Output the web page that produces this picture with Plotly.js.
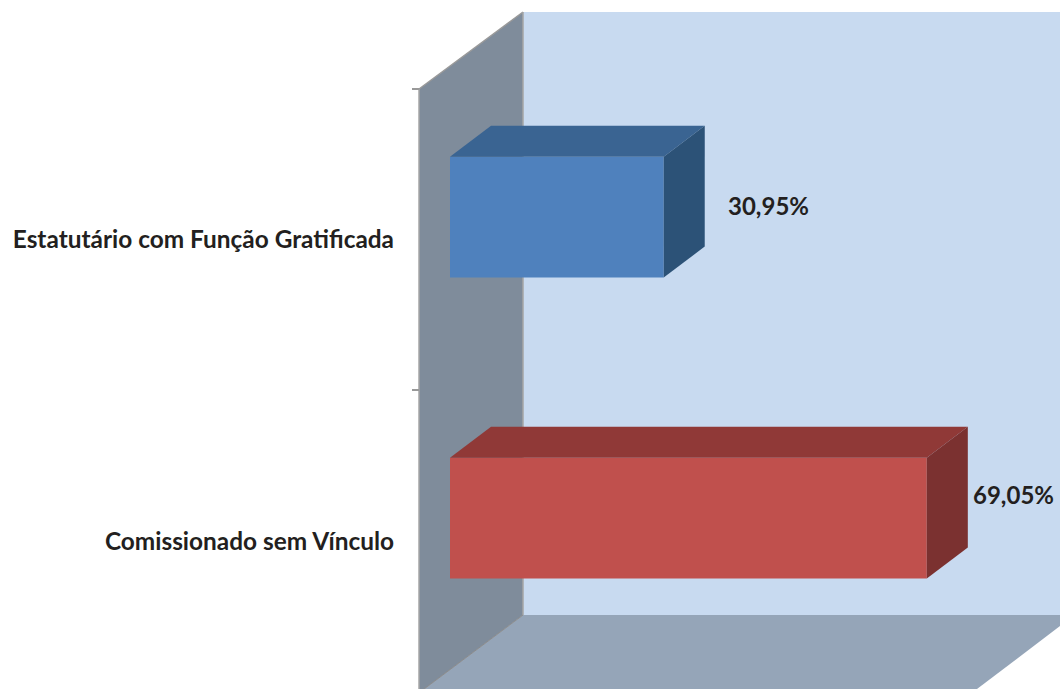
<!DOCTYPE html>
<html>
<head>
<meta charset="utf-8">
<script src="https://cdn.plot.ly/plotly-3.0.1.min.js"></script>
<style>html,body{margin:0;padding:0;background:#fff;overflow:hidden}#chart{width:1060px;height:689px}</style>
</head>
<body>
<div id="chart"></div>
<script>
const categories = ['Comissionado sem Vínculo', 'Estatutário com Função Gratificada'];
const values = [69.05, 30.95];
const frontColors = ['#c0504d', '#4f81bd'];
const topColors = ['#903937', '#3a6492'];
const sideColors = ['#7b3130', '#2c5277'];

const W = 1060, H = 689;
const FONT = 'Lato, "Open Sans", sans-serif';
const INK = '#231f20';
const xRange = [-65.17, 88.34];
const yRange = [-0.4917, 1.797];
const barOffset = -0.125, barWidth = 0.4017;
const depthX = 5.94, depthY = 0.103;
const labelShift = [44, 62];
const labelY = [0.1528, 1.1129];

const px = x => x / W;
const py = y => 1 - y / H;
function poly(points, fill, line) {
  const path = points.map((p, i) => (i ? 'L' : 'M') + px(p[0]) + ',' + py(p[1])).join(' ') + ' Z';
  return {type: 'path', xref: 'paper', yref: 'paper', path, fillcolor: fill, layer: 'below',
          line: line ? {color: line, width: 1.5} : {width: 0}};
}
function seg(a, b, color, width) {
  return {type: 'line', xref: 'paper', yref: 'paper', layer: 'below',
          x0: px(a[0]), y0: py(a[1]), x1: px(b[0]), y1: py(b[1]), line: {color, width}};
}
const shapes = [
  poly([[523, 12], [1060, 12], [1060, 615], [523, 615]], '#c8daf0'),
  poly([[523, 615], [1060, 615], [1060, 626], [977, 689], [424, 689]], '#95a5b8'),
  poly([[419, 89], [523, 12], [523, 615], [419, 693]], '#7f8c9b'),
  seg([419, 89], [523, 12], '#999999', 1.5),
  seg([419, 89], [419, 689], '#a6a6a6', 1.5),
  seg([523, 12], [523, 615], '#a6a6a6', 1.5),
  seg([523, 615], [424, 689], '#8c8c8c', 1),
];

const traces = [{
  type: 'bar', orientation: 'h', y: categories, x: values,
  width: barWidth, offset: barOffset,
  marker: {color: frontColors, line: {width: 0}},
  hoverinfo: 'skip', showlegend: false, cliponaxis: false
}];

values.forEach((v, i) => {
  const lo = i + barOffset, hi = lo + barWidth;
  traces.push({
    type: 'scatter', mode: 'lines', yaxis: 'y2', fill: 'toself', fillcolor: topColors[i],
    x: [0, v, v + depthX, depthX, 0], y: [hi, hi, hi + depthY, hi + depthY, hi],
    line: {width: 0}, hoverinfo: 'skip', showlegend: false
  });
  traces.push({
    type: 'scatter', mode: 'lines', yaxis: 'y2', fill: 'toself', fillcolor: sideColors[i],
    x: [v, v + depthX, v + depthX, v, v], y: [lo, lo + depthY, hi + depthY, hi, lo],
    line: {width: 0}, hoverinfo: 'skip', showlegend: false
  });
});

const annotations = values.map((v, i) => ({
  xref: 'x', yref: 'y2', x: v, y: labelY[i], xshift: labelShift[i], xanchor: 'left', yanchor: 'middle',
  text: '<b>' + v.toFixed(2).replace('.', ',') + '%</b>', showarrow: false,
  font: {family: FONT, size: 24, color: INK}
}));

const layout = {
  width: W, height: H, margin: {l: 0, r: 0, t: 0, b: 0},
  paper_bgcolor: '#ffffff', plot_bgcolor: 'rgba(0,0,0,0)',
  showlegend: false, shapes, annotations,
  xaxis: {range: xRange, visible: false, fixedrange: true},
  yaxis: {
    type: 'category', categoryorder: 'array', categoryarray: categories, range: yRange,
    anchor: 'free', position: 419 / W, side: 'left', tickson: 'boundaries',
    ticks: 'outside', ticklen: 7, tickwidth: 2, tickcolor: '#999999',
    showline: false, showgrid: false, zeroline: false, ticklabelstandoff: 25,
    tickfont: {family: FONT, size: 24.4, color: INK, weight: 700}, fixedrange: true
  },
  yaxis2: {range: yRange, overlaying: 'y', visible: false, fixedrange: true}
};

Plotly.newPlot('chart', traces, layout, {displayModeBar: false, staticPlot: true});
</script>
</body>
</html>
